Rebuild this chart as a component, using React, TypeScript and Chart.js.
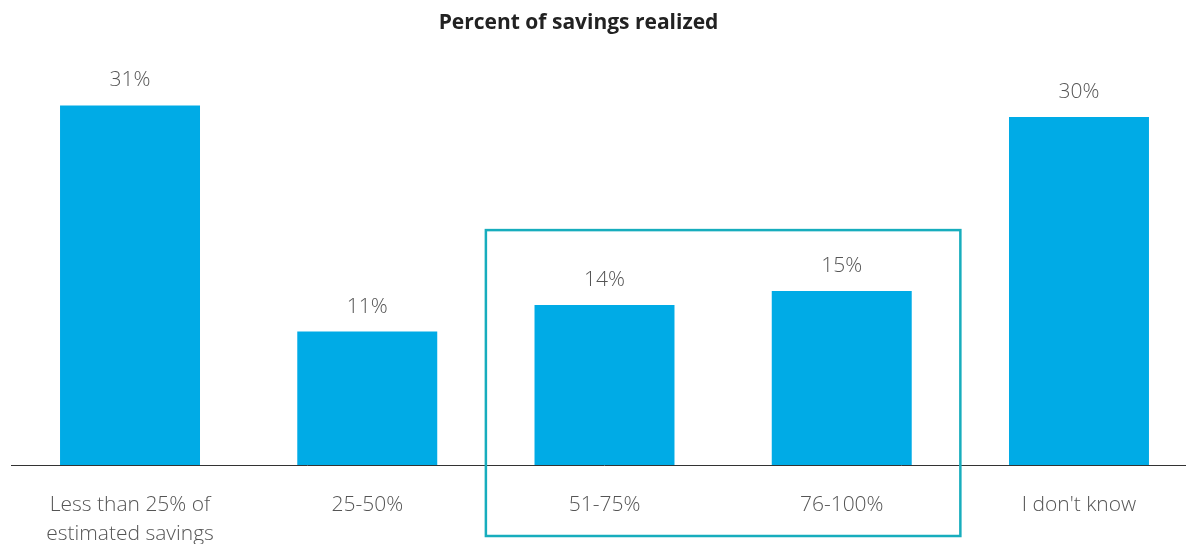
import React, { useEffect, useRef } from "react";
import { Chart, registerables } from "chart.js";

Chart.register(...registerables);

const categories: (string | string[])[] = [
  ["Less than 25% of", "estimated savings"],
  "25-50%",
  "51-75%",
  "76-100%",
  "I don't know",
];
const values: number[] = [31, 11.5, 13.8, 15, 30];
const valueLabels: string[] = ["31%", "11%", "14%", "15%", "30%"];
const chartTitle = "Percent of savings realized";
const highlightStart = 2;
const highlightEnd = 3;
const highlightTopValue = 20.25;

const FONT = "'Open Sans', 'Noto Sans', sans-serif";

const overlayPlugin = {
  id: "overlay",
  afterDatasetsDraw(chart: any) {
    const { ctx, chartArea } = chart;
    const meta = chart.getDatasetMeta(0);
    ctx.save();
    // value labels
    ctx.fillStyle = "#555555";
    ctx.font = `300 21px ${FONT}`;
    ctx.textAlign = "center";
    ctx.textBaseline = "alphabetic";
    meta.data.forEach((bar: any, i: number) => {
      ctx.fillText(valueLabels[i], bar.x, bar.y - 19);
    });
    // title
    ctx.fillStyle = "#222222";
    ctx.font = `bold 21px ${FONT}`;
    ctx.textBaseline = "middle";
    ctx.fillText(chartTitle, 578.5, 23);
    // highlight box
    const xs = chart.scales.x;
    const ys = chart.scales.y;
    const catW = (chartArea.right - chartArea.left) / categories.length;
    const left = xs.getPixelForValue(highlightStart) - catW / 2;
    const right = xs.getPixelForValue(highlightEnd) + catW / 2;
    const top = ys.getPixelForValue(highlightTopValue);
    const bottom = chartArea.bottom + 71;
    ctx.strokeStyle = "#17adbd";
    ctx.lineWidth = 2.5;
    ctx.strokeRect(left, top, right - left, bottom - top);
    ctx.restore();
  },
};

export default function App() {
  const ref = useRef<HTMLCanvasElement>(null);
  useEffect(() => {
    if (!ref.current) return;
    const chart = new Chart(ref.current, {
      type: "bar",
      data: {
        labels: categories,
        datasets: [
          {
            data: values,
            backgroundColor: "#00abe6",
            borderWidth: 0,
            barPercentage: 0.59,
            categoryPercentage: 1,
          },
        ],
      },
      options: {
        animation: false,
        responsive: true,
        maintainAspectRatio: false,
        layout: { padding: { left: 11.4, right: 12.4, top: 1, bottom: 0 } },
        plugins: {
          legend: { display: false },
          title: { display: false },
          tooltip: { enabled: false },
        },
        scales: {
          x: {
            grid: { display: false, drawTicks: false },
            border: { display: true, color: "#333333", width: 1 },
            ticks: {
              color: "#555555",
              font: { family: FONT, size: 21, weight: 300 as any, lineHeight: 1.4 },
              padding: 25,
              maxRotation: 0,
              autoSkip: false,
            },
            afterFit(scale: any) {
              scale.height = 79;
            },
          },
          y: {
            display: false,
            min: 0,
            max: 40,
          },
        },
      },
      plugins: [overlayPlugin],
    });
    return () => chart.destroy();
  }, []);
  return (
    <div
      style={{
        position: "fixed",
        left: 0,
        top: 0,
        width: 1186,
        height: 544,
        overflow: "hidden",
        background: "#ffffff",
      }}
    >
      <div style={{ position: "relative", width: 1210, height: 544 }}>
        <canvas ref={ref} />
      </div>
    </div>
  );
}
